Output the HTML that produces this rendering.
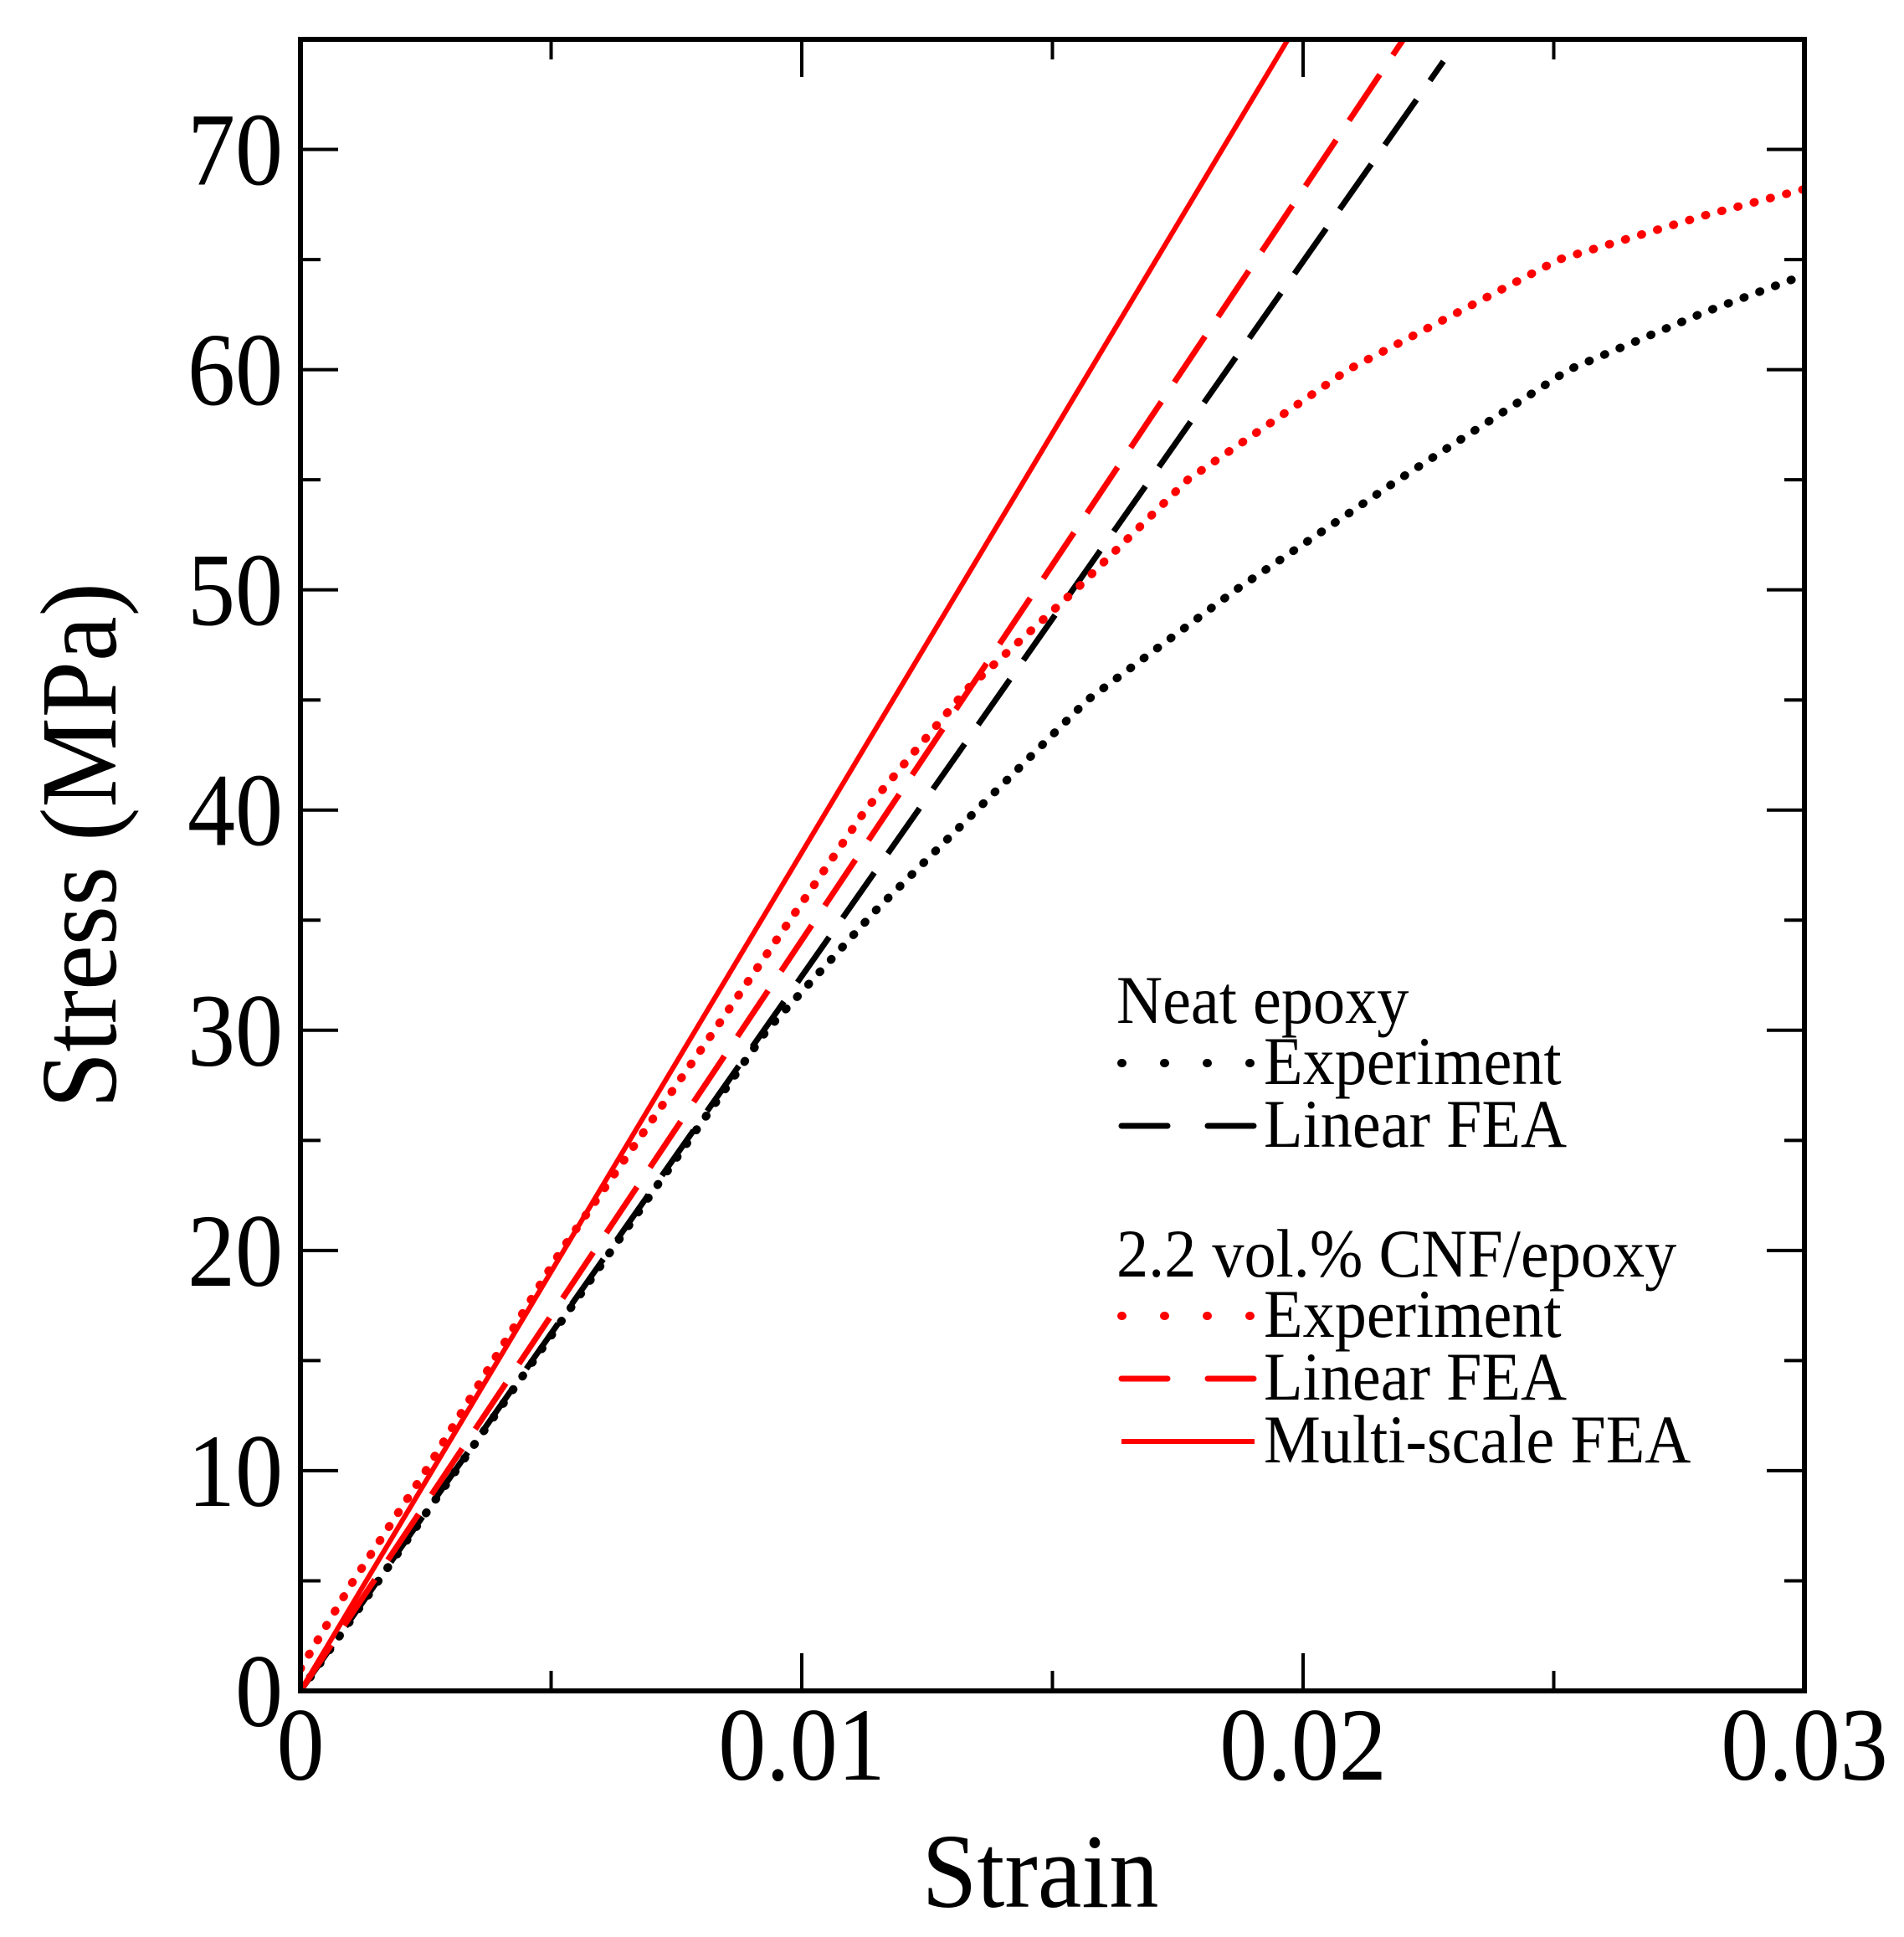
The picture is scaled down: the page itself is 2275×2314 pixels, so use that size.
<!DOCTYPE html>
<html><head><meta charset="utf-8"><style>
html,body{margin:0;padding:0;background:#fff;}
svg{display:block;font-family:"Liberation Serif","Times New Roman",serif;}
</style></head><body>
<svg id="chart" width="2275" height="2314" viewBox="0 0 2275 2314" xmlns="http://www.w3.org/2000/svg">
<defs><clipPath id="plotclip"><rect x="359" y="47" width="1797" height="1973"/></clipPath></defs>
<g id="grid"></g>
<g id="series" clip-path="url(#plotclip)"></g>
<rect x="359" y="47" width="1797" height="1973" fill="none" stroke="#000" stroke-width="6"/>
<g id="labels"></g>
<text transform="translate(1243,2278) scale(0.94,1)" text-anchor="middle" font-size="126">Strain</text>
<text transform="translate(138,1010) rotate(-90) scale(0.93,1)" text-anchor="middle" font-size="130">Stress (MPa)</text>
<g id="legend"></g>
</svg>
<script>
const xTicks = [0, 0.01, 0.02, 0.03];
const xTickLabels = ["0", "0.01", "0.02", "0.03"];
const yTicks = [0, 10, 20, 30, 40, 50, 60, 70];
const yTickLabels = ["0", "10", "20", "30", "40", "50", "60", "70"];
const neatExpStrain = [0, 0.001, 0.0031, 0.0062, 0.0093, 0.0115, 0.01349, 0.0157, 0.01866, 0.0219, 0.0253, 0.028, 0.03];
const neatExpStress = [0, 3.2, 10, 20, 30, 35.5, 40, 45, 50, 55, 60, 62.6, 64.3];
const cnfExpStrain = [0, 0.001, 0.0025, 0.0052, 0.00826, 0.01127, 0.0133, 0.01546, 0.0177, 0.0209, 0.0251, 0.028, 0.03];
const cnfExpStress = [1.0, 4.8, 10, 20, 30, 40, 45.5, 50, 55, 60, 65, 67, 68.2];
const neatLinStrain = [0, 0.0228];
const neatLinStress = [0, 74];
const cnfLinStrain = [0, 0.022];
const cnfLinStress = [0, 75];
const cnfMultiStrain = [0, 0.0197];
const cnfMultiStress = [0, 75];

const X0=359, X1=2156, Y0=2020, Y1=47;
function sx(v){return X0+(v/0.03)*(X1-X0);}
function sy(v){return Y0-(v/75)*(Y0-Y1);}
const NS="http://www.w3.org/2000/svg";
function mk(tag,attrs,parent){const e=document.createElementNS(NS,tag);for(const k in attrs)e.setAttribute(k,attrs[k]);parent.appendChild(e);return e;}
const grid=document.getElementById('grid'), labels=document.getElementById('labels'), series=document.getElementById('series'), legend=document.getElementById('legend');

for(let i=0;i<=6;i++){const v=i*0.005;const x=sx(v);const L=(i%2===0)?45:24;
 const a=mk('line',{x1:x,y1:Y0,x2:x,y2:Y0-L,stroke:'#000','stroke-width':4},grid);
 
 
 const b=mk('line',{x1:x,y1:Y1,x2:x,y2:Y1+L,stroke:'#000','stroke-width':4},grid);
 
 }
for(let i=0;i<=15;i++){const v=i*5;const y=sy(v);const L=(i%2===0)?45:24;
 const a=mk('line',{x1:X0,y1:y,x2:X0+L,y2:y,stroke:'#000','stroke-width':4},grid);
 
 
 const b=mk('line',{x1:X1,y1:y,x2:X1-L,y2:y,stroke:'#000','stroke-width':4},grid);
 
 }
xTicks.forEach((v,i)=>{const t=mk('text',{transform:`translate(${sx(v)},2126) scale(0.92,1)`,'text-anchor':'middle','font-size':124},labels);t.textContent=xTickLabels[i];
 
 });
yTicks.forEach((v,i)=>{const t=mk('text',{transform:`translate(338,${sy(v)+42}) scale(0.92,1)`,'text-anchor':'end','font-size':124},labels);t.textContent=yTickLabels[i];
 
 });

const styles={
 dot:{'stroke-dasharray':'1 19','stroke-linecap':'round','stroke-width':10},
 dash:{'stroke-dasharray':'66 28','stroke-linecap':'butt','stroke-width':7},
 solid:{'stroke-width':6}};
function draw(xs,ys,color,st,name){
 const pts=xs.map((x,i)=>sx(x).toFixed(1)+','+sy(ys[i]).toFixed(1)).join(' ');
 const p=mk('polyline',Object.assign({points:pts,fill:'none',stroke:color,'stroke-linejoin':'round'},styles[st]),series);
 
 }
draw(neatExpStrain,neatExpStress,'#000','dot','neat-experiment-line');
draw(neatLinStrain,neatLinStress,'#000','dash','neat-linear-fea-line');
draw(cnfExpStrain,cnfExpStress,'#f00','dot','cnf-experiment-line');
draw(cnfLinStrain,cnfLinStress,'#f00','dash','cnf-linear-fea-line');
draw(cnfMultiStrain,cnfMultiStress,'#f00','solid','cnf-multiscale-fea-line');

function ltext(x,y,s,name){const t=mk('text',{transform:`translate(${x},${y}) scale(0.93,1)`,'font-size':82},legend);t.textContent=s;
 
 }
function lline(y,color,st,name){const l=mk('line',Object.assign({x1:1340,y1:y,x2:1499,y2:y,stroke:color},styles[st]),legend);
 if(st==='dot'){l.setAttribute('stroke-dasharray','1 50');l.setAttribute('stroke-width',10);}
 if(st==='dash'){l.setAttribute('stroke-dasharray','55 48');l.setAttribute('stroke-linecap','round');}
 
 }
ltext(1334,1222,'Neat epoxy','legend-heading-neat');
lline(1270,'#000','dot','legend-swatch-neat-experiment'); ltext(1510,1295,'Experiment','legend-label-neat-experiment');
lline(1345,'#000','dash','legend-swatch-neat-linear'); ltext(1510,1370,'Linear FEA','legend-label-neat-linear');
ltext(1334,1525,'2.2 vol.% CNF/epoxy','legend-heading-cnf');
lline(1572,'#f00','dot','legend-swatch-cnf-experiment'); ltext(1510,1597,'Experiment','legend-label-cnf-experiment');
lline(1647,'#f00','dash','legend-swatch-cnf-linear'); ltext(1510,1672,'Linear FEA','legend-label-cnf-linear');
lline(1722,'#f00','solid','legend-swatch-cnf-multiscale'); ltext(1510,1747,'Multi-scale FEA','legend-label-cnf-multiscale');
</script>
</body></html>
